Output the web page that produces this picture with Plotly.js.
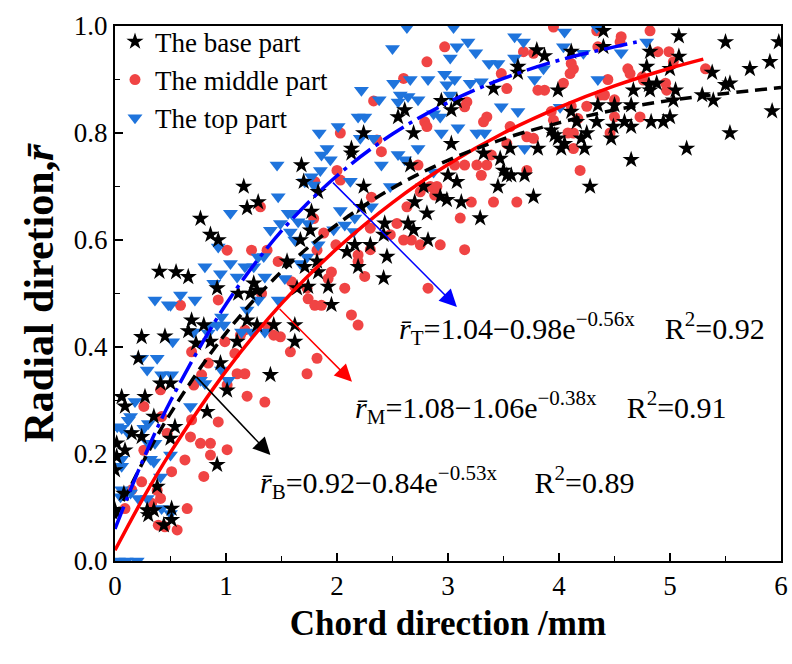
<!DOCTYPE html>
<html>
<head>
<meta charset="utf-8">
<script src="https://cdn.plot.ly/plotly-3.0.1.min.js"></script>
<style>html,body{margin:0;padding:0;background:#fff;}#chart{width:792px;height:664px;}</style>
</head>
<body>
<div id="chart"></div>
<script>
// ---------- data ----------
const baseX = [0.24,0.45,0.06,0.09,0.27,0.21,0.015,0.0,0.35,0.15,0.24,0.54,0.92,0.38,0.29,0.35,0.44,0.51,0.0,0.015,0.41,0.50,1.01,0.83,0.50,0.09,0.51,0.08,0.30,
  1.19,0.77,0.86,0.93,1.77,1.76,1.67,1.55,1.82,1.71,1.83,0.55,0.66,0.92,1.25,1.28,1.22,1.11,1.74,1.92,0.69,0.80,1.19,1.28,1.43,1.62,0.66,0.73,0.86,1.10,1.62,0.95,1.40,1.29,1.95,0.40,1.64,
  1.68,1.16,1.70,1.83,
  2.81,3.29,2.64,2.69,2.43,2.42,2.82,2.30,2.16,2.09,2.45,2.19,2.42,2.22,
  3.80,3.87,3.63,3.63,3.41,2.94,3.08,3.03,2.61,2.55,2.69,2.24,2.13,2.13,3.03,3.56,3.81,3.32,3.47,2.66,3.00,3.08,3.50,3.53,3.57,3.69,2.24,2.78,3.45,3.77,2.70,2.93,2.99,3.12,
  4.40,5.08,5.50,5.98,4.11,4.40,4.82,5.08,5.00,4.79,5.38,5.72,5.90,3.99,4.67,4.81,4.88,4.82,5.05,5.03,5.50,5.54,5.29,5.39,4.35,4.50,4.65,4.11,4.16,4.34,4.59,4.83,4.94,5.00,4.49,4.65,3.93,3.96,3.99,4.05,4.02,4.20,4.25,4.23,4.47,5.15,5.54,4.65,4.28,5.92];
const baseY = [0.419,0.42,0.307,0.289,0.307,0.379,0.22,0.17,0.27,0.239,0.232,0.251,0.18,0.139,0.095,0.095,0.067,0.077,0.095,0.195,0.332,0.332,0.319,0.279,0.229,0.207,0.098,0.126,0.086,
  0.66,0.64,0.61,0.60,0.653,0.618,0.60,0.56,0.56,0.55,0.54,0.54,0.531,0.51,0.519,0.506,0.50,0.50,0.513,0.513,0.45,0.441,0.45,0.441,0.441,0.441,0.43,0.407,0.41,0.41,0.41,0.37,0.348,0.671,0.479,0.541,0.51,
  0.74,0.70,0.709,0.69,
  0.65,0.641,0.631,0.619,0.631,0.61,0.60,0.591,0.591,0.578,0.569,0.55,0.529,0.662,
  0.955,0.944,0.924,0.913,0.883,0.86,0.86,0.843,0.843,0.83,0.80,0.80,0.771,0.762,0.78,0.771,0.771,0.762,0.752,0.74,0.721,0.709,0.73,0.721,0.721,0.721,0.70,0.70,0.70,0.681,0.671,0.681,0.675,0.671,
  0.991,0.981,0.97,0.97,0.952,0.961,0.952,0.943,0.92,0.924,0.913,0.92,0.933,0.88,0.88,0.89,0.893,0.88,0.88,0.861,0.89,0.893,0.871,0.861,0.852,0.852,0.852,0.84,0.821,0.821,0.821,0.821,0.821,0.83,0.812,0.812,0.805,0.796,0.79,0.78,0.771,0.79,0.80,0.771,0.79,0.771,0.80,0.75,0.70,0.841];

const middleX = [0.26,0.41,0.42,0.47,0.68,0.77,0.86,0.86,1.01,0.63,0.51,0.80,0.24,0.41,0.33,0.65,0.39,0.56,0.09,0.15,0.93,0.69,1.01,1.19,1.35,0.71,0.38,0.45,0.26,
  1.31,1.79,1.88,1.01,1.23,1.37,1.47,1.82,1.95,1.92,1.59,1.62,1.73,1.74,1.80,1.86,0.93,0.59,1.32,1.13,1.17,1.43,1.49,0.99,1.58,1.82,1.73,1.10,1.17,0.78,0.69,1.08,0.84,1.38,
  1.80,
  3.11,2.54,2.60,2.67,2.75,2.93,3.15,2.30,2.48,1.99,2.30,2.19,2.19,2.25,2.07,2.82,2.13,2.19,2.63,
  2.97,2.81,2.60,2.33,3.68,3.77,3.48,3.53,3.81,3.87,3.17,3.15,3.35,3.32,2.79,2.81,2.03,2.36,2.40,3.56,3.53,3.71,3.77,3.39,3.06,3.15,3.26,3.35,2.73,2.00,2.03,3.30,3.71,2.31,2.75,2.84,2.90,2.88,3.21,3.41,3.62,
  3.95,4.34,4.56,4.82,4.35,4.55,4.89,4.99,4.11,4.13,4.10,4.04,4.62,4.64,4.75,4.76,5.03,5.32,4.44,4.96,4.97,4.37,4.41,4.50,4.25,4.11,3.93,3.95,4.17,4.50,4.73,4.08,4.13,4.46,4.13,4.19];
const middleY = [0.289,0.32,0.27,0.239,0.232,0.22,0.22,0.198,0.208,0.189,0.167,0.158,0.148,0.117,0.108,0.098,0.067,0.058,0.098,0.133,0.26,0.264,0.329,0.308,0.297,0.329,0.132,0.064,0.207,
  0.662,0.64,0.613,0.581,0.581,0.581,0.56,0.581,0.54,0.528,0.522,0.513,0.51,0.49,0.478,0.478,0.488,0.478,0.50,0.422,0.432,0.422,0.419,0.41,0.391,0.379,0.35,0.35,0.35,0.348,0.391,0.388,0.37,0.438,
  0.709,
  0.641,0.631,0.60,0.60,0.591,0.591,0.582,0.622,0.61,0.591,0.582,0.572,0.56,0.532,0.51,0.51,0.46,0.441,0.662,
  0.961,0.933,0.902,0.86,0.952,0.949,0.911,0.883,0.88,0.88,0.858,0.849,0.83,0.821,0.821,0.812,0.80,0.787,0.765,0.812,0.78,0.793,0.79,0.759,0.74,0.74,0.74,0.74,0.74,0.73,0.712,0.721,0.73,0.68,0.69,0.70,0.70,0.684,0.671,0.671,0.671,
  0.998,0.991,0.98,0.991,0.961,0.97,0.952,0.952,0.93,0.92,0.911,0.893,0.92,0.911,0.905,0.899,0.933,0.92,0.90,0.893,0.88,0.871,0.871,0.862,0.85,0.85,0.84,0.824,0.827,0.83,0.83,0.80,0.80,0.80,0.771,0.73];

const topX = [0.24,0.38,0.29,0.42,0.51,0.06,0.12,0.26,0.18,0.14,0.30,0.36,0.32,0.06,0.06,0.06,0.14,0.21,0.29,0.42,0.50,0.50,0.68,0.77,0.81,0.30,0.02,0.12,0.35,0.41,0.05,0.03,0.10,0.20,
  1.04,1.56,1.59,1.74,1.65,1.49,1.40,1.58,1.62,0.93,1.04,1.17,1.29,1.25,1.73,1.67,0.81,0.95,1.10,1.35,1.53,0.89,0.59,0.72,0.50,1.29,1.47,1.19,0.96,0.85,0.92,0.98,0.71,1.14,1.23,1.35,0.52,0.96,1.02,1.83,1.34,0.36,0.48,0.84,
  1.84,1.91,1.86,1.94,1.46,1.85,1.77,1.79,1.47,1.71,
  1.97,2.07,2.15,2.16,2.31,2.03,
  2.63,3.05,2.50,3.08,3.18,3.25,3.60,3.68,3.02,3.37,3.45,3.60,2.82,2.97,3.06,2.99,3.20,3.30,2.51,2.66,2.57,2.64,2.73,2.38,2.55,2.22,3.02,2.93,2.87,3.48,3.63,3.78,3.86,2.01,2.19,2.25,2.21,2.33,2.40,2.55,2.61,2.73,3.09,3.26,3.33,3.69,2.94,2.12,2.48,2.87,
  4.05,4.34,4.04,4.22,4.56,4.79,4.35,4.01];
const topY = [0.379,0.379,0.357,0.348,0.348,0.248,0.239,0.248,0.298,0.27,0.22,0.22,0.19,0.19,0.177,0.133,0.127,0.117,0.117,0.098,0.089,0.198,0.289,0.338,0.332,0.257,0.251,0.263,0.185,0.157,0.12,0.0,0.0,0.0,
  0.65,0.65,0.65,0.631,0.634,0.631,0.618,0.615,0.60,0.587,0.556,0.55,0.568,0.55,0.568,0.556,0.55,0.537,0.531,0.531,0.528,0.519,0.497,0.488,0.478,0.488,0.488,0.469,0.456,0.438,0.441,0.441,0.428,0.428,0.428,0.428,0.41,0.357,0.338,0.591,0.569,0.488,0.479,0.426,
  0.80,0.771,0.759,0.75,0.74,0.73,0.718,0.703,0.681,0.709,
  0.619,0.628,0.616,0.641,0.662,0.655,
  0.997,0.997,0.958,0.961,0.970,0.95,0.98,0.97,0.94,0.93,0.93,0.94,0.90,0.91,0.90,0.89,0.893,0.896,0.893,0.90,0.871,0.868,0.862,0.862,0.858,0.88,0.871,0.83,0.836,0.849,0.84,0.90,0.92,0.812,0.83,0.83,0.79,0.79,0.74,0.76,0.75,0.771,0.81,0.80,0.80,0.771,0.80,0.71,0.70,0.727,
  0.989,0.997,0.961,0.949,0.95,0.97,0.90,0.848];

// fitted curves, points
const fitBX = [0,0.25,0.5,1,1.5,2,2.5,3,3.5,4,4.5,5,5.5,6];
const fitBY = [0.080,0.184,0.276,0.426,0.541,0.629,0.697,0.749,0.789,0.819,0.843,0.861,0.874,0.885];
const fitMX = [0,0.25,0.5,1,1.5,2,2.5,3,3.5,4,4.5,5,5.3];
const fitMY = [0.020,0.116,0.203,0.355,0.481,0.584,0.670,0.741,0.800,0.848,0.888,0.921,0.938];
const fitTX = [0,0.25,0.5,1,1.5,2,2.5,3,3.5,4,4.5,4.7];
const fitTY = [0.060,0.188,0.299,0.480,0.617,0.720,0.798,0.857,0.902,0.936,0.961,0.970];

const seriesNames = ['The base part','The middle part','The top part'];
const eqT = '<i>r\u0304</i><sub>T</sub>=1.04\u22120.98e<sup>\u22120.56x</sup>\u00a0\u00a0\u00a0\u00a0R<sup>2</sup>=0.92';
const eqM = '<i>r\u0304</i><sub>M</sub>=1.08\u22121.06e<sup>\u22120.38x</sup>\u00a0\u00a0\u00a0\u00a0R<sup>2</sup>=0.91';
const eqB = '<i>r\u0304</i><sub>B</sub>=0.92\u22120.84e<sup>\u22120.53x</sup>\u00a0\u00a0\u00a0\u00a0\u00a0R<sup>2</sup>=0.89';

// ---------- chart ----------
const FONT = 'Liberation Serif, Times New Roman, serif';
const traces = [
  {x: middleX, y: middleY, name: seriesNames[1], type: 'scatter', mode: 'markers', legendrank: 2,
   marker: {symbol: 'circle', size: 11, color: '#f04444'}},
  {x: topX, y: topY, name: seriesNames[2], type: 'scatter', mode: 'markers', legendrank: 3,
   marker: {symbol: 'triangle-down', size: 13, color: '#1f74dc'}},
  {x: baseX, y: baseY, name: seriesNames[0], type: 'scatter', mode: 'markers', legendrank: 1,
   marker: {symbol: 'star', size: 13, color: '#000000'}},
  {x: fitMX, y: fitMY, type: 'scatter', mode: 'lines', showlegend: false,
   line: {color: '#ff0000', width: 3.5, shape: 'spline'}},
  {x: fitBX, y: fitBY, type: 'scatter', mode: 'lines', showlegend: false,
   line: {color: '#000000', width: 3.5, dash: '12px,7px', shape: 'spline'}},
  {x: fitTX, y: fitTY, type: 'scatter', mode: 'lines', showlegend: false,
   line: {color: '#0000ff', width: 3.5, dash: '24px,6px,4px,6px', shape: 'spline'}}
];

const axisCommon = {
  showgrid: false, zeroline: false, showline: true, linecolor: '#000', linewidth: 2, mirror: true,
  ticks: 'inside', ticklen: 8, tickwidth: 1.5, tickcolor: '#000',
  tickfont: {family: FONT, size: 27, color: '#000'}
};

const layout = {
  width: 792, height: 664,
  margin: {l: 115, r: 11, t: 26, b: 103},
  paper_bgcolor: '#fff', plot_bgcolor: '#fff',
  showlegend: true,
  legend: {x: 0, y: 1.016, xanchor: 'left', yanchor: 'top', bgcolor: 'rgba(0,0,0,0)',
           font: {family: FONT, size: 27, color: '#000'}, traceorder: 'normal'},
  xaxis: Object.assign({}, axisCommon, {
    range: [0, 6], dtick: 1, tick0: 0,
    minor: {dtick: 0.5, ticks: 'inside', ticklen: 5, tickwidth: 1.5, tickcolor: '#000'},
    title: {text: '<b>Chord direction /mm</b>', font: {family: FONT, size: 35, color: '#000'}, standoff: 10}
  }),
  yaxis: Object.assign({}, axisCommon, {
    range: [0, 1], dtick: 0.2, tick0: 0, tickformat: '.1f',
    minor: {dtick: 0.1, ticks: 'inside', ticklen: 5, tickwidth: 1.5, tickcolor: '#000'},
    title: {text: '<b>Radial diretion,<i>r\u0304</i></b>', font: {family: FONT, size: 42, color: '#000'}, standoff: 7}
  }),
  annotations: [
    {x: 3.08, y: 0.475, ax: 1.95, ay: 0.71, xref: 'x', yref: 'y', axref: 'x', ayref: 'y', text: '',
     showarrow: true, arrowhead: 2, arrowsize: 2.3, arrowwidth: 1.5, arrowcolor: '#0000ff'},
    {x: 2.135, y: 0.335, ax: 1.47, ay: 0.474, xref: 'x', yref: 'y', axref: 'x', ayref: 'y', text: '',
     showarrow: true, arrowhead: 2, arrowsize: 2.3, arrowwidth: 1.5, arrowcolor: '#ff0000'},
    {x: 1.40, y: 0.198, ax: 0.72, ay: 0.347, xref: 'x', yref: 'y', axref: 'x', ayref: 'y', text: '',
     showarrow: true, arrowhead: 2, arrowsize: 2.3, arrowwidth: 1.5, arrowcolor: '#000000'},
    {x: 2.54, y: 0.435, xref: 'x', yref: 'y', xanchor: 'left', yanchor: 'middle', showarrow: false,
     text: eqT, font: {family: FONT, size: 30, color: '#000'}},
    {x: 2.14, y: 0.286, xref: 'x', yref: 'y', xanchor: 'left', yanchor: 'middle', showarrow: false,
     text: eqM, font: {family: FONT, size: 30, color: '#000'}},
    {x: 1.29, y: 0.146, xref: 'x', yref: 'y', xanchor: 'left', yanchor: 'middle', showarrow: false,
     text: eqB, font: {family: FONT, size: 30, color: '#000'}}
  ]
};

Plotly.newPlot('chart', traces, layout, {displayModeBar: false, staticPlot: true});
</script>
</body>
</html>
